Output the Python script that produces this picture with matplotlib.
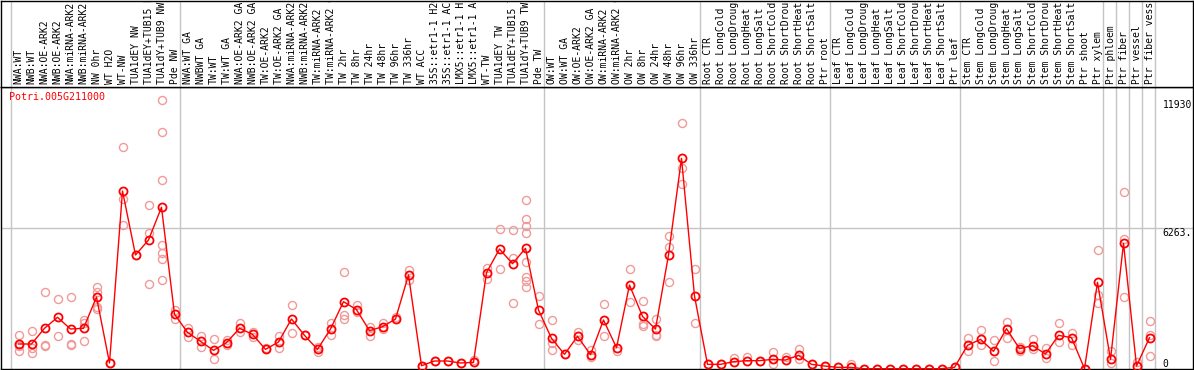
import numpy as np
import matplotlib.pyplot as plt

gene = 'Potri.005G211000'

labels = [
    # NW
    'NWA:WT', 'NWB:WT', 'NWA:OE-ARK2', 'NWB:OE-ARK2', 'NWA:miRNA-ARK2', 'NWB:miRNA-ARK2',
    'NW 0hr', 'WT H2O', 'WT-NW', 'TUA1dEY NW', 'TUA1dEY+TUB15 NW', 'TUA1dY+TUB9 NW', 'Pde NW',
    # TW
    'NWA:WT GA', 'NWBWT GA', 'TW:WT', 'TW:WT GA', 'NWA:OE-ARK2 GA', 'NWB:OE-ARK2 GA',
    'TW:OE-ARK2', 'TW:OE-ARK2 GA', 'NWA:miRNA-ARK2 GA', 'NWB:miRNA-ARK2 GA', 'TW:miRNA-ARK2',
    'TW:miRNA-ARK2 GA', 'TW 2hr', 'TW 8hr', 'TW 24hr', 'TW 48hr', 'TW 96hr', 'TW 336hr', 'WT ACC',
    '35S::etr1-1 H2O', '35S::etr1-1 ACC', 'LMX5::etr1-1 H2O', 'LMX5::etr1-1 ACC', 'WT-TW',
    'TUA1dEY TW', 'TUA1dEY+TUB15 TW', 'TUA1dY+TUB9 TW', 'Pde TW',
    # OW
    'OW:WT', 'OW:WT GA', 'OW:OE-ARK2', 'OW:OE-ARK2 GA', 'OW:miRNA-ARK2', 'OW:miRNA-ARK2 GA',
    'OW 2hr', 'OW 8hr', 'OW 24hr', 'OW 48hr', 'OW 96hr', 'OW 336hr',
    # Root
    'Root CTR', 'Root LongCold', 'Root LongDrought', 'Root LongHeat', 'Root LongSalt',
    'Root ShortCold', 'Root ShortDrought', 'Root ShortHeat', 'Root ShortSalt', 'Ptr root',
    # Leaf
    'Leaf CTR', 'Leaf LongCold', 'Leaf LongDrought', 'Leaf LongHeat', 'Leaf LongSalt',
    'Leaf ShortCold', 'Leaf ShortDrought', 'Leaf ShortHeat', 'Leaf ShortSalt', 'Ptr leaf',
    # Stem
    'Stem CTR', 'Stem LongCold', 'Stem LongDrought', 'Stem LongHeat', 'Stem LongSalt',
    'Stem ShortCold', 'Stem ShortDrought', 'Stem ShortHeat', 'Stem ShortSalt', 'Ptr shoot',
    'Ptr xylem',
    # wood
    'Ptr phloem', 'Ptr fiber', 'Ptr vessel', 'Ptr fiber vessel',
]

group_sizes = [13, 28, 12, 10, 10, 11, 1, 1, 1, 1]

means = [
    1110, 1110, 1807, 2296, 1777, 1807, 3198, 266, 7907, 5064, 5730, 7183, 2430,
    1629, 1229, 829, 1170, 1806, 1540, 873, 1199, 2221, 1495, 873, 1776,
    2990, 2635, 1702, 1880, 2220, 4175, 147, 355, 355, 266, 296, 4279,
    5330, 4678, 5359, 2620,
    1362, 651, 1450, 636, 2176, 947, 3731, 2339, 1776, 5063, 9357, 3242,
    207, 207, 325, 370, 370, 429, 399, 606, 207, 133,
    73, 73, 14, 14, 14, 14, 14, 14, 14, 73,
    1051, 1317, 784, 1791, 903, 1036, 666, 1495, 1391, 14, 3849,
    429, 5582, 133, 1391,
]

reps = [
    [1495, 814, 1020], [1673, 918, 726], [3405, 1066, 1022], [3095, 1480],
    [3184, 1051, 1100], [2176, 2030, 1230], [3629, 3434, 2767, 2651], [266],
    [9848, 7552, 6397], [5064], [7285, 6056, 3776],
    [11930, 10514, 8395, 5508, 5138, 4871, 3953], [2621, 2236],
    [1836, 1436], [1466, 992], [1318, 429], [1288, 1051], [2028, 1629], [1629, 1421],
    [933], [1466, 933], [2828, 1584], [1495], [991, 754], [2028, 1510],
    [4293, 2398, 2206], [2842, 2517], [1880, 1465], [2058, 1791], [2294], [4397, 3953],
    [147], [355], [355], [266], [399], [4471, 3982], [6218, 4427], [6159, 4915, 2946],
    [7506, 6648, 6366, 6026, 4738, 4101, 3908, 3627], [3242, 1998],
    [2176, 1139, 843], [651], [1643, 1288], [843, 518], [2887, 1465], [814],
    [4427, 2961], [3005, 1983, 1909], [2235, 1510, 1465], [5907, 5433, 3864],
    [10927, 8913, 8202], [4427, 2043],
    [207], [207], [473], [518], [370], [754, 222], [547], [903, 458], [207], [133],
    [73], [222], [14], [14], [14], [14], [14], [14], [14], [73],
    [1377, 814], [1732, 1065], [1273, 355], [2072, 1377], [991, 814], [1332, 873],
    [917, 473], [2043, 1214], [1584, 1065], [14], [5285, 3286, 2916],
    [814, 281], [7847, 5759, 3183], [325], [2132, 1510, 577],
]

y_top = 12526
y_labels = [11930, 6263, 0]
y_label_text = ['11930', '6263.', '0']

W, H = 1194, 370
fig = plt.figure(figsize=(W / 100, H / 100), dpi=100)
plt.rcParams['font.family'] = 'DejaVu Sans Mono'

# pixel layout: plot area below, sample-name header on top
plot_ax = fig.add_axes([1 / W, 1 / H, 1192 / W, 282 / H])
head_ax = fig.add_axes([1 / W, 283 / H, 1192 / W, 86.5 / H])

x = np.arange(len(labels))
xlim = ((1 - 18.5) / 13, (1193 - 18.5) / 13)
bounds = np.concatenate([[0], np.cumsum(group_sizes)]) - 0.577
grey = '#c4c4c4'

for ax in (plot_ax, head_ax):
    ax.set_xlim(*xlim)
    ax.set_xticks([])
    ax.set_yticks([])
    for s in ax.spines.values():
        s.set_linewidth(1.0)
        s.set_color('black')
    for b in bounds:
        ax.axvline(b, color=grey, lw=1, zorder=0)

# header labels (long ones run off the top, as in the original)
head_ax.set_ylim(0, 1)
for i, lab in enumerate(labels):
    head_ax.text(i, 0.04, lab, rotation=90, ha='center', va='bottom',
                 fontsize=7, color='black', clip_on=True)

# data
plot_ax.set_ylim(0, y_top)
plot_ax.axhline(6263, color=grey, lw=1, zorder=0)

for i, r in enumerate(reps):
    plot_ax.plot([i] * len(r), r, 'o', mfc='none', mec='#f09a9a', ms=5.8,
                 mew=1.0, clip_on=False, zorder=2)
plot_ax.plot(x, means, '-', color='red', lw=1, zorder=3, clip_on=False)
plot_ax.plot(x, means, 'o', mfc='none', mec='red', ms=5.8, mew=1.3,
             clip_on=False, zorder=4)

plot_ax.text(8 / 1192, 0.965, gene, transform=plot_ax.transAxes, color='red',
             fontsize=7.2, ha='left', va='center')

ytrans = plot_ax.get_yaxis_transform()
for val, txt in zip(y_labels, y_label_text):
    plot_ax.text(0.9745, val, txt, transform=ytrans, fontsize=7,
                 ha='left', va='bottom' if val == 0 else 'top')

fig.savefig('out.png', dpi=100)
